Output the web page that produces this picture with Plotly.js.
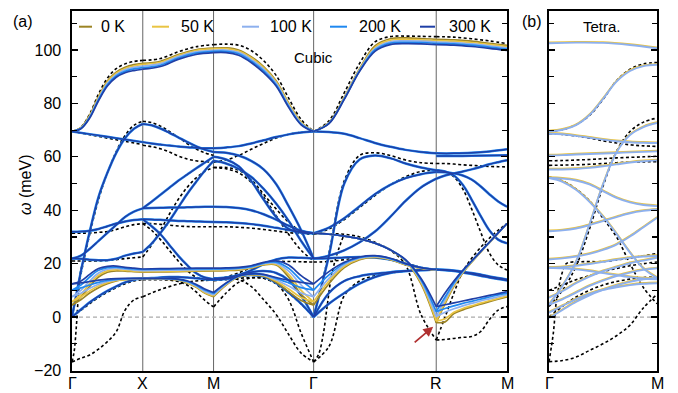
<!DOCTYPE html>
<html><head><meta charset="utf-8">
<script src="https://cdn.plot.ly/plotly-3.0.1.min.js"></script>
<style>html,body{margin:0;padding:0;background:#fff}#plot{width:678px;height:393px}</style>
</head><body><div id="plot"></div>
<script>
// ---------- path ----------
const kTicks = [0, 1, 2, 3.414, 5.146, 6.146];
const kLabels = ['Γ', 'X', 'M', 'Γ', 'R', 'M'];
const temps = ['0 K', '50 K', '100 K', '200 K', '300 K'];

// ---------- Γ–X ----------
const gx_top = [
 [69.5, 70.9, 75.6, 82.5, 88.4, 91.7, 93.5, 94.5, 95],
 [69.5, 70.8, 75.3, 82.2, 88, 91.3, 93.1, 94, 94.6],
 [69.5, 70.7, 75, 81.8, 87.5, 90.8, 92.6, 93.5, 94],
 [69.5, 70.6, 74.8, 81.4, 87, 90.3, 92, 92.9, 93.4],
 [69.5, 70.5, 74.5, 81, 86.5, 89.8, 91.5, 92.3, 92.8]];
const gx_soft1 = [
 [4.5, 7.5, 11.5, 15, 16.8, 17.3, 17.2, 17, 16.8],
 [5.7, 8.5, 12.5, 15.7, 17.3, 17.7, 17.5, 17.2, 17],
 [7.6, 10, 13.5, 16.5, 17.9, 18.2, 17.9, 17.6, 17.4],
 [10.1, 12, 15, 17.5, 18.5, 18.7, 18.3, 18, 17.8],
 [12.4, 13.5, 16, 18.2, 19, 19.1, 18.6, 18.3, 18]];
const gx_soft2 = [
 [4.5, 6.5, 9, 11, 12.5, 13.5, 14, 14.3, 14.5],
 [5.7, 7.5, 9.8, 11.6, 12.9, 13.7, 14.1, 14.4, 14.5],
 [7.6, 8.9, 10.8, 12.3, 13.3, 13.9, 14.2, 14.4, 14.5],
 [10.1, 10.9, 12, 13, 13.7, 14.1, 14.3, 14.5, 14.5],
 [12.4, 12.8, 13.3, 13.8, 14.2, 14.4, 14.5, 14.5, 14.5]];
const gx_common = [
 [0, 2.8, 5.5, 7.8, 9.8, 11.5, 13, 14, 14.5],
 [0, 17, 32, 45, 54, 61.5, 67, 70.5, 72.3],
 [69.5, 68.5, 67.5, 66.5, 65.5],
 [21.9, 21.8, 21.5, 21.3, 21.3, 21.8, 23, 23.8, 24.4],
 [31.9, 32, 32.3, 33, 34, 35, 35.8, 36.3, 36.6],
 [21.9, 23, 25.5, 28.5, 31.5, 34.5, 37.5, 39.5, 40.7]];
const gx_dft = [
 [69.5, 71, 76, 83.5, 89.5, 93, 94.8, 95.7, 96.1],
 [69.5, 68.3, 67, 65.8, 64.6],
 [0, 16, 31, 44, 54, 62, 68, 71.8, 73.3],
 [0, 2.5, 5, 7.3, 9.3, 11, 12.5, 13.5, 14],
 [-16.8, -15.4, -14.2, -12, -9.2, -5.5, 2.6, 6.4, 7.6],
 [[0, -16.8], [0.03, -13], [0.06, -4], [0.09, 8], [0.12, 17], [0.16, 21]],
 [21, 21, 21, 21, 21.2, 21.5, 21.9, 22.2, 22.5],
 [31.4, 31.4, 31.5, 31.7, 32, 32.8, 33.8, 34.6, 35]];

// ---------- X–M ----------
const xm_top = [
 [95, 95.8, 98.3, 100.1, 100.7],
 [94.6, 95.4, 97.9, 99.8, 100.4],
 [94, 94.9, 97.5, 99.3, 99.9],
 [93.4, 94.3, 97, 98.8, 99.5],
 [92.8, 93.8, 96.5, 98.3, 99]];
const xm_flat = [
 [16.8, 16.9, 17, 17.2, 17.3],
 [17, 17.1, 17.2, 17.4, 17.5],
 [17.4, 17.5, 17.6, 17.7, 17.8],
 [17.8, 17.9, 18, 18, 18],
 [18, 18.1, 18.2, 18.3, 18.3]];
const xm_soft = [
 [14.5, 14.4, 14.2, 14.1, 13.8, 12.9, 11.2, 9, 7.6],
 [14.5, 14.4, 14.3, 14.2, 13.9, 13, 11.4, 9.2, 7.9],
 [14.5, 14.5, 14.4, 14.3, 14, 13.2, 11.7, 9.6, 8.3],
 [14.5, 14.5, 14.5, 14.4, 14.1, 13.4, 12, 10.1, 8.8],
 [14.5, 14.5, 14.5, 14.4, 14.2, 13.6, 12.3, 10.5, 9.2]];
const xm_common = [
 [65.5, 65, 64.6, 64.2, 63.9, 63.6, 63.4, 63.2, 63.2],
 [72.3, 71.8, 70.6, 69, 67.3, 65.6, 64, 62.7, 61.8],
 [40.7, 43.2, 45.8, 48.4, 51, 53.3, 55.6, 57.8, 60],
 [24.4, 27.5, 31.5, 36, 41, 46, 50.5, 54.8, 58.5],
 [40.7, 40.8, 40.9, 41, 41, 41.1, 41.2, 41.3, 41.3],
 [36.6, 36.5, 36.4, 36.2, 36, 35.9, 35.8, 35.7, 35.6],
 [36.6, 34, 31, 27, 23, 19.5, 16.5, 14.8, 14.2],
 [14.5, 14.6, 14.8, 15, 15, 14.8, 14.5, 14.2, 14]];
const xm_dft = [
 [96.1, 96.8, 99.3, 101.2, 102],
 [64.3, 63.8, 63, 61.8, 60.3, 59.2, 58.5, 58.2, 58],
 [73.3, 72.8, 71.5, 69.5, 67.3, 65, 63, 61.5, 60.5],
 [22.5, 27, 32.5, 38.5, 44, 48.5, 52, 54.5, 56],
 [35, 35, 34.7, 34.4, 34.1, 33.9, 33.8, 33.8, 33.8],
 [7.6, 9, 10.3, 11.4, 12.3, 13, 13.5, 13.7, 13.8],
 [14, 14, 14, 13.8, 13.3, 12, 9.5, 6.3, 3.8],
 [35, 32.5, 29, 25, 21, 17.5, 15, 14, 13.8]];

// ---------- M–Γ ----------
const mg_top = [
 [100.7, 100.8, 100, 97.5, 93.8, 88.5, 80.2, 73, 69.5],
 [100.4, 100.5, 99.6, 97.1, 93.4, 88.1, 79.9, 72.8, 69.5],
 [99.9, 100, 99.1, 96.5, 92.8, 87.6, 79.4, 72.5, 69.5],
 [99.5, 99.5, 98.6, 95.9, 92.2, 87, 78.9, 72.2, 69.5],
 [99, 99, 98, 95.3, 91.5, 86.5, 78.5, 72, 69.5]];
const mg_softA = [
 [7.6, 12, 15, 15.8, 15.3, 13, 9.5, 6.2, 4.5],
 [7.9, 12.2, 15.1, 15.9, 15.5, 13.5, 10.5, 7.3, 5.7],
 [8.3, 12.4, 15.2, 16, 15.7, 14, 11.6, 9, 7.6],
 [8.8, 12.6, 15.3, 16.1, 15.9, 14.5, 12.8, 11, 10.1],
 [9.2, 12.8, 15.4, 16.2, 16, 14.8, 13.8, 13, 12.4]];
const mg_softB = [
 [17.3, 17.4, 17.6, 18.3, 19.5, 19.5, 15, 8.5, 4.5],
 [17.5, 17.6, 17.8, 18.5, 19.7, 19.8, 16, 10, 5.7],
 [17.8, 17.9, 18.1, 18.7, 20, 20.2, 17.2, 12, 7.6],
 [18, 18.1, 18.3, 18.9, 20.2, 20.6, 18.3, 13.8, 10.1],
 [18.3, 18.4, 18.6, 19.2, 20.5, 21, 19.5, 15.5, 12.4]];
const mg_common = [
 [63.2, 63.5, 64, 65, 66.2, 67.4, 68.4, 69.1, 69.5],
 [61.8, 61.5, 60.5, 58.5, 55.3, 49.8, 41.5, 32.5, 21.9],
 [60, 59, 56.5, 51, 44, 37.5, 33, 31.6, 31.4],
 [58.5, 57.5, 55.5, 52.5, 48, 42.5, 36, 28.5, 21.9],
 [41.3, 41.2, 40.8, 40, 38.5, 36.5, 34.2, 32.3, 31.4],
 [35.6, 35.5, 35.2, 34.8, 34.2, 33.4, 32.6, 31.9, 31.4],
 [14.5, 14.8, 15.8, 17.5, 19.8, 21.6, 22.3, 22.2, 21.9],
 [14, 14.5, 15.2, 15.7, 15.2, 12.8, 9.2, 5, 0],
 [14.2, 14.2, 15.5, 16.8, 17.2, 16.5, 13.8, 8, 0]];
const mg_dft = [
 [102, 102.2, 101.8, 99.8, 96, 90.5, 82, 74, 69.5],
 [58, 58.8, 60.5, 62.8, 65, 67, 68.4, 69.2, 69.5],
 [56, 56, 55, 51.5, 46, 40.5, 35.5, 32.3, 31.4],
 [33.8, 33.8, 33.6, 33.3, 32.8, 32.2, 31.6, 31.2, 31],
 [13.8, 14.3, 14, 11.5, 6.5, 1, -6.5, -13.5, -16.8],
 [3.8, 9, 13, 14.6, 14.5, 12.5, 6.5, -6, -16.8],
 [13.6, 14, 14.5, 14.8, 14.5, 12.5, 9, 4.8, 0],
 [56, 55.5, 54, 50.5, 45, 38, 31, 25, 21],
 [13.8, 15, 16.5, 18.5, 20.3, 20.8, 20.8, 20.7, 20.6]];

// ---------- Γ–R ----------
const gr_top = [
 [69.5, 72.8, 82.3, 93, 101.5, 104.2, 104.5, 104.3, 104],
 [69.5, 72.7, 82.1, 92.7, 101, 103.7, 104, 103.8, 103.5],
 [69.5, 72.6, 81.9, 92.4, 100.5, 103.1, 103.4, 103.3, 103],
 [69.5, 72.5, 81.7, 92.2, 100, 102.6, 102.9, 102.8, 102.5],
 [69.5, 72.4, 81.5, 92, 99.5, 102, 102.4, 102.3, 102]];
const gr_arm = [
 [31.4, 31, 30.3, 29.3, 27.7, 25.2, 21, 12.5, -2.1],
 [31.4, 31, 30.3, 29.3, 27.7, 25.2, 21, 13, -1.5],
 [31.4, 31, 30.3, 29.3, 27.7, 25.2, 21.2, 13.6, 0.2],
 [31.4, 31, 30.3, 29.3, 27.7, 25.2, 21.3, 14, 2],
 [31.4, 31, 30.3, 29.3, 27.7, 25.2, 21.5, 14.5, 3.9]];
const gr_soft = [
 [4.5, 12.5, 18.5, 21.5, 22.3, 21.5, 19.5, 18.2, 17.6],
 [5.7, 13.5, 19, 21.8, 22.5, 21.6, 19.7, 18.3, 17.7],
 [7.6, 14.5, 19.6, 22, 22.7, 21.8, 19.8, 18.4, 17.7],
 [10.1, 15.8, 20.1, 22.3, 22.9, 21.9, 19.9, 18.5, 17.8],
 [12.4, 17, 20.5, 22.5, 23, 22, 20, 18.5, 17.8]];
const gr_common = [
 [69.5, 69.3, 68.6, 67, 65.2, 63.8, 62.6, 61.8, 61.3],
 [0, 23, 50, 59, 60.5, 59.5, 57.5, 56, 55],
 [31.4, 33.5, 37, 41.5, 46, 49.5, 52, 53.5, 54.3],
 [21.9, 23, 25, 28, 32, 37.5, 43.5, 48.5, 51.8],
 [0, 9, 13.5, 15.3, 16.2, 16.8, 17.2, 17.5, 17.8],
 [0, 5, 9, 12.5, 15, 16.5, 17.2, 17.6, 17.8],
 [21.9, 22, 22.3, 22.5, 22.3, 21.5, 20, 18.5, 17.8]];
const gr_dft = [
 [69.5, 73.5, 84, 95, 103, 105, 105.2, 105.1, 105],
 [0, 24, 51, 60.5, 61.5, 60.5, 58.8, 57.8, 57.5],
 [31, 33, 36.5, 41, 45.5, 49.5, 52.5, 54.5, 55],
 [31.2, 31.2, 31, 30, 28, 25, 19.5, 1, -8.6],
 [-16.8, -11, 8, 13.5, 15.5, 16.5, 17.2, 17.6, 17.8],
 [20.6, 20.8, 21.5, 22.5, 22.5, 21.8, 20.3, 18.6, 17.8],
 [[0, -16.8], [0.04, -14], [0.08, -6], [0.11, 4], [0.14, 14], [0.18, 22], [0.24, 30]]];

// ---------- R–M ----------
const rm_top = [
 [104, 103.8, 103.3, 102.5, 101.7],
 [103.5, 103.3, 102.8, 102.1, 101.3],
 [103, 102.8, 102.3, 101.6, 100.8],
 [102.5, 102.3, 101.8, 101.1, 100.3],
 [102, 101.8, 101.3, 100.6, 99.8]];
const rm_soft = [
 [-2.1, -1.8, 1.3, 2.7, 3.8, 4.8, 5.8, 6.7, 7.6],
 [-1.5, -0.6, 1.8, 3.2, 4.2, 5.2, 6.1, 7, 7.9],
 [0.2, 1.8, 3.1, 4.2, 5.1, 6, 6.8, 7.6, 8.4],
 [2, 3.2, 4.2, 5.1, 5.9, 6.7, 7.5, 8.3, 9],
 [3.9, 4.6, 5.3, 6, 6.7, 7.4, 8.1, 8.8, 9.5]];
const rm_arm = [
 [-2.1, 5, 11.5, 16.5, 20.5, 24.2, 27.8, 31.4, 35],
 [-1.5, 5.5, 11.8, 16.7, 20.6, 24.3, 27.9, 31.4, 35],
 [0.2, 6.5, 12.3, 17, 20.8, 24.4, 27.9, 31.5, 35],
 [2, 7.5, 12.8, 17.2, 20.9, 24.5, 28, 31.5, 35],
 [3.9, 9, 13.5, 17.5, 21, 24.5, 28, 31.5, 35]];
const rm_common = [
 [61.3, 61.3, 61.5, 62, 62.8],
 [60.3, 60.3, 60.4, 60.5, 60.6],
 [55, 54.5, 53, 49.5, 44, 38, 32.5, 29, 27.6],
 [54.3, 54.2, 53.8, 53, 51.5, 49, 46, 43.3, 41.3],
 [51.8, 53, 53.8, 54.5, 55.3, 56.2, 57.2, 58, 58.7],
 [17.8, 17.7, 17.4, 17, 16.5, 15.9, 15.2, 14.6, 14.1],
 [17.8, 17.5, 17.2, 16.7, 16.1, 15.5, 14.8, 14.2, 13.7]];
const rm_dft = [
 [105, 104.8, 104.2, 103.4, 102.4],
 [57.5, 57.5, 57.3, 57, 56.8, 56.6, 56.4, 56.3, 56.2],
 [55, 54.5, 52.5, 48, 40.5, 32, 24, 19.5, 17.6],
 [17.8, 17.6, 17.3, 16.8, 16.3, 15.7, 15, 14.4, 13.8],
 [-8.6, -8.4, -8, -7.6, -7.3, -5.5, -1, 2.6, 3.9],
 [-8.6, 0, 9, 17, 22, 26, 29.5, 32.5, 35]];

// ---------- Tetragonal Γ–M ----------
const tet_bands = [
 [102.9, 103.1, 103, 102.2, 101],
 [69.9, 70.5, 72.2, 76, 82, 88.5, 92.5, 94.3, 94.8],
 [69, 68.8, 68.2, 67.5, 66.8, 66.2, 65.8, 65.6, 65.5],
 [60.9, 61, 61.2, 61.4, 61.6, 61.8, 62, 62.2, 62.4],
 [55.6, 55.6, 55.8, 56.2, 56.8, 57.5, 58.2, 58.7, 59],
 [5, 12, 21, 35, 50, 62, 68.5, 71.5, 73],
 [52.4, 52.2, 51.5, 50, 47.5, 45, 43.3, 42.3, 41.9],
 [52.4, 51, 48, 43.5, 38, 31.5, 24.5, 18.5, 15],
 [32.5, 32.8, 33.5, 34.8, 36.3, 37.8, 39.2, 40.1, 40.6],
 [21.9, 22.3, 23, 24, 25.5, 27.5, 30.5, 34, 37.5],
 [18.8, 19, 19.5, 20.2, 21, 21.8, 22.5, 23, 23.2],
 [18.8, 18.6, 18.2, 17.6, 16.8, 16, 15.3, 14.8, 14.5],
 [7.6, 10, 13, 15.5, 17.5, 19, 20.5, 21.5, 22.5],
 [5, 7, 9.5, 12, 14, 15.7, 17, 18, 18.6],
 [0, 3, 6, 8.5, 10.5, 12.2, 13.5, 14.5, 15],
 [2, 4.5, 7, 9, 10.5, 11.5, 12.3, 12.8, 13]];
const tet_dft = [
 [69.5, 70.2, 72, 75.5, 81.5, 88.5, 92.8, 94.8, 95.3],
 [68.7, 68.4, 67.8, 67, 66, 65.2, 64.5, 64.1, 63.9],
 [58.5, 58.6, 58.8, 59, 59.3, 59.6, 59.8, 60, 60.2],
 [56.8, 56.9, 57, 57.2, 57.5, 57.8, 58, 58.1, 58.2],
 [4, 10, 19, 33, 49, 62, 69.5, 73, 74.5],
 [52.4, 51, 48, 43.5, 37, 30, 20, 11, 5],
 [-16.7, -16.3, -15, -12.5, -10, -7, -3, 3.5, 8.5],
 [[0, -16.7], [0.04, -6], [0.07, 6.4], [0.12, 16.3], [0.16, 20], [0.3, 20.7], [0.5, 20.8], [0.7, 21.8], [1, 23.8]],
 [0, 4, 7.5, 10, 12, 13.3, 14.2, 14.8, 15],
 [10, 12, 14, 15.5, 17, 18.2, 19.2, 20, 20.6]];

// ---------- styles ----------
const tempColors = ['#9c8424', '#e9c443', '#8db0ee', '#1f88f0', '#1f3fa6'];
const FONT = 'Liberation Sans, Arial, Helvetica, sans-serif';
const Y_RANGE = [-20.2, 114.6];

const segs = [
  {common: gx_common, dft: gx_dft, temp: [gx_top, gx_soft1, gx_soft2]},
  {common: xm_common, dft: xm_dft, temp: [xm_top, xm_flat, xm_soft]},
  {common: mg_common, dft: mg_dft, temp: [mg_top, mg_softA, mg_softB]},
  {common: gr_common, dft: gr_dft, temp: [gr_top, gr_arm, gr_soft]},
  {common: rm_common, dft: rm_dft, temp: [rm_top, rm_soft, rm_arm]}
];

function addCurve(xs, ys, c, s0, len) {
  if (typeof c[0] === 'number') {
    const n = c.length;
    c.forEach((e, i) => { xs.push(s0 + len * i / (n - 1)); ys.push(e); });
  } else {
    c.forEach(p => { xs.push(s0 + len * p[0]); ys.push(p[1]); });
  }
  xs.push(null); ys.push(null);
}
function collect(getCurves) {
  const xs = [], ys = [];
  segs.forEach((sg, i) => {
    const s0 = kTicks[i], len = kTicks[i + 1] - kTicks[i];
    getCurves(sg).forEach(c => addCurve(xs, ys, c, s0, len));
  });
  return {xs, ys};
}
function line(d, color, width, dash, xa, ya) {
  return {type: 'scatter', mode: 'lines', x: d.xs, y: d.ys, xaxis: xa, yaxis: ya,
    line: {color: color, width: width, dash: dash || 'solid', shape: 'spline', smoothing: 1},
    connectgaps: false, hoverinfo: 'skip', showlegend: false};
}

const traces = [];
traces.push(line(collect(sg => sg.dft), '#000', 1.6, '3px,2.5px', 'x', 'y'));
const com = collect(sg => sg.common);
traces.push(line(com, tempColors[3], 2.5, null, 'x', 'y'));
traces.push(line(com, tempColors[4], 1.5, null, 'x', 'y'));
temps.forEach((t, T) => {
  traces.push(line(collect(sg => sg.temp.map(g => g[T])), tempColors[T], 1.7, null, 'x', 'y'));
});
function collectTet(curves) {
  const xs = [], ys = [];
  curves.forEach(c => addCurve(xs, ys, c, 0, 1));
  return {xs, ys};
}
traces.push(line(collectTet(tet_dft), '#000', 1.6, '3px,2.5px', 'x2', 'y2'));
const tb = collectTet(tet_bands);
// gold (low T) on the base axis, light blue on an overlaid axis (drawn above) nudged ~1 px lower
traces.push(line(tb, tempColors[1], 1.5, null, 'x2', 'y2'));
traces.push(line(tb, tempColors[2], 1.9, null, 'x2', 'y3'));

// ---------- layout ----------
const L = 72, T = 11, W = 585, H = 360;
const px = v => (v - L) / W, py = v => (T + H - v) / H;

const shapes = [];
kTicks.slice(1, 5).forEach(k => shapes.push({type: 'line', xref: 'x', yref: 'paper', x0: k, x1: k, y0: 0, y1: 1,
  line: {color: '#555', width: 0.9}, layer: 'below'}));
shapes.push({type: 'line', xref: 'x domain', yref: 'y', x0: 0, x1: 1, y0: 0, y1: 0, line: {color: '#aaa', width: 1.2, dash: '4px,3px'}, layer: 'below'});
shapes.push({type: 'line', xref: 'x2 domain', yref: 'y2', x0: 0, x1: 1, y0: 0, y1: 0, line: {color: '#aaa', width: 1.2, dash: '4px,3px'}, layer: 'below'});

const legX = [[79, 92, 99], [152, 169, 179], [242, 259, 268], [330, 347, 357], [420, 435, 447]];
const annotations = [];
temps.forEach((t, i) => {
  const [a, b, c] = legX[i];
  shapes.push({type: 'line', xref: 'paper', yref: 'paper', x0: px(a), x1: px(b), y0: py(26.7), y1: py(26.7),
    line: {color: tempColors[i], width: 2}});
  annotations.push({xref: 'paper', yref: 'paper', x: px(c), y: py(26.5), xanchor: 'left', yanchor: 'middle',
    text: t, showarrow: false, font: {family: FONT, size: 16, color: '#000'}});
});
annotations.push({xref: 'paper', yref: 'paper', x: px(23), y: py(21), text: '(a)', showarrow: false,
  xanchor: 'center', yanchor: 'middle', font: {family: FONT, size: 16, color: '#000'}});
annotations.push({xref: 'paper', yref: 'paper', x: px(532), y: py(21), text: '(b)', showarrow: false,
  xanchor: 'center', yanchor: 'middle', font: {family: FONT, size: 16, color: '#000'}});
annotations.push({xref: 'paper', yref: 'paper', x: px(313), y: py(57), text: 'Cubic', showarrow: false,
  xanchor: 'center', yanchor: 'middle', font: {family: FONT, size: 15, color: '#000'}});
annotations.push({xref: 'paper', yref: 'paper', x: px(601.5), y: py(27), text: 'Tetra.', showarrow: false,
  xanchor: 'center', yanchor: 'middle', font: {family: FONT, size: 15, color: '#000'}});
annotations.push({xref: 'paper', yref: 'paper', x: px(26), y: py(185), text: '<i>ω</i> (meV)', textangle: -90,
  showarrow: false, xanchor: 'center', yanchor: 'middle', font: {family: FONT, size: 16, color: '#000'}});
annotations.push({xref: 'x', yref: 'y', x: 5.103, y: -3.6, ax: -20, ay: 17, text: '', showarrow: true,
  arrowhead: 2, arrowsize: 1.1, arrowwidth: 1.8, arrowcolor: '#b03030', standoff: 0});
kTicks.forEach((k, i) => annotations.push({xref: 'x', yref: 'paper', x: k, y: py(383), text: kLabels[i],
  showarrow: false, xanchor: 'center', yanchor: 'middle', font: {family: FONT, size: 16, color: '#000'}}));
[0, 1].forEach(k => annotations.push({xref: 'x2', yref: 'paper', x: k, y: py(383), text: ['Γ', 'M'][k],
  showarrow: false, xanchor: 'center', yanchor: 'middle', font: {family: FONT, size: 16, color: '#000'}}));

const yCommon = {range: Y_RANGE, ticks: 'inside', ticklen: 6, tickwidth: 1.2, tickcolor: '#000',
  dtick: 20, tick0: 0, minor: {dtick: 10, ticks: 'inside', ticklen: 5, tickcolor: '#000'},
  showline: true, linecolor: '#000', linewidth: 1.6, mirror: 'ticks', showgrid: false, zeroline: false,
  automargin: false, tickfont: {family: FONT, size: 16, color: '#000'}};
const xCommon = {showline: true, linecolor: '#000', linewidth: 1.6, mirror: true, showgrid: false, zeroline: false,
  ticks: '', showticklabels: false, automargin: false};

const layout = {
  width: 678, height: 393,
  margin: {l: L, r: 678 - L - W, t: T, b: 393 - T - H},
  paper_bgcolor: '#fff', plot_bgcolor: 'rgba(0,0,0,0)',
  showlegend: false,
  xaxis: Object.assign({}, xCommon, {domain: [0, px(507)], range: [0, kTicks[5]]}),
  yaxis: Object.assign({}, yCommon, {anchor: 'x', ticklabelstandoff: 6}),
  xaxis2: Object.assign({}, xCommon, {domain: [px(549), 1], range: [0, 1]}),
  yaxis2: Object.assign({}, yCommon, {anchor: 'x2', showticklabels: false}),
  yaxis3: {overlaying: 'y2', anchor: 'x2', visible: false, range: [Y_RANGE[0] + 0.35, Y_RANGE[1] + 0.35],
    showgrid: false, zeroline: false},
  shapes: shapes, annotations: annotations
};
Plotly.newPlot('plot', traces, layout, {staticPlot: true, displayModeBar: false});
</script></body></html>
